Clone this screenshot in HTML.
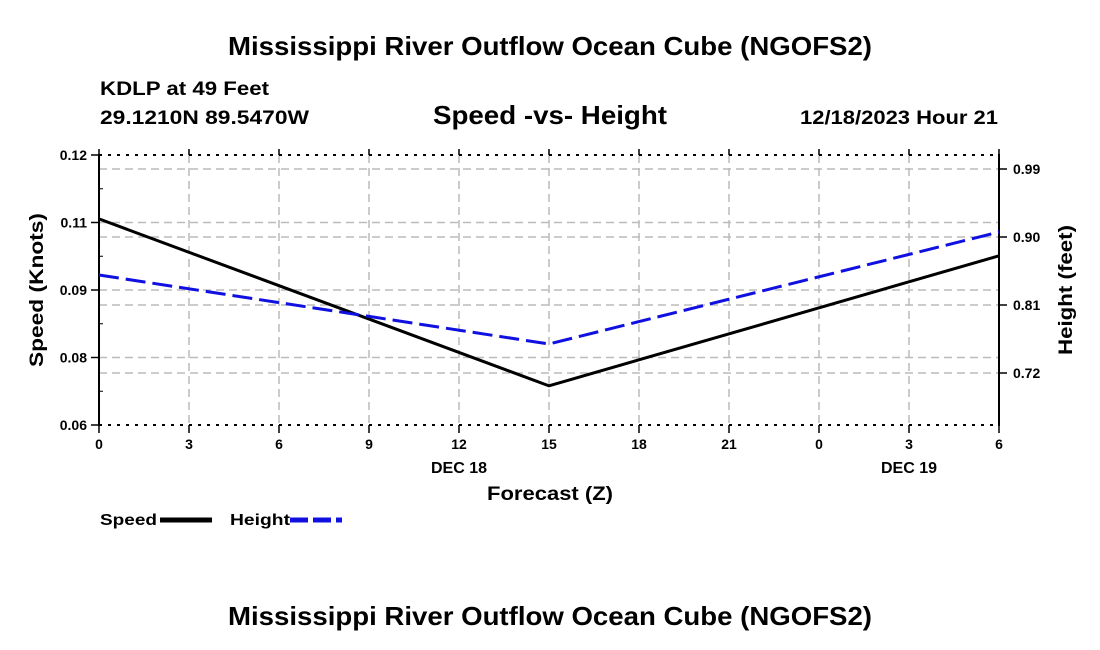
<!DOCTYPE html>
<html><head><meta charset="utf-8"><style>
html,body{margin:0;padding:0;background:#fff;}
svg{display:block;font-family:"Liberation Sans",Arial,sans-serif;font-weight:bold;}
</style></head><body>
<svg id="chart" width="1100" height="650" viewBox="0 0 1100 650">
<text x="228" y="55" font-size="26" textLength="644" lengthAdjust="spacingAndGlyphs">Mississippi River Outflow Ocean Cube (NGOFS2)</text>
<text x="100" y="95" font-size="19" textLength="169" lengthAdjust="spacingAndGlyphs">KDLP at 49 Feet</text>
<text x="100" y="124" font-size="19" textLength="209" lengthAdjust="spacingAndGlyphs">29.1210N  89.5470W</text>
<text x="433" y="124" font-size="26" textLength="234" lengthAdjust="spacingAndGlyphs">Speed -vs- Height</text>
<text x="800" y="124" font-size="19" textLength="198" lengthAdjust="spacingAndGlyphs">12/18/2023 Hour 21</text>
<g id="grid"></g>
<g id="axes"></g>
<g id="series"></g>
<text x="487" y="500" font-size="19" textLength="126" lengthAdjust="spacingAndGlyphs">Forecast (Z)</text>
<text transform="translate(43,290) rotate(-90)" font-size="19" text-anchor="middle" textLength="154" lengthAdjust="spacingAndGlyphs">Speed (Knots)</text>
<text transform="translate(1072,290) rotate(-90)" font-size="19" text-anchor="middle" textLength="130" lengthAdjust="spacingAndGlyphs">Height (feet)</text>
<g>
<text x="100" y="525" font-size="16" textLength="57" lengthAdjust="spacingAndGlyphs">Speed</text>
<line x1="160" y1="520" x2="212" y2="520" stroke="#000" stroke-width="5"/>
<text x="230" y="525" font-size="16" textLength="60" lengthAdjust="spacingAndGlyphs">Height</text>
<line x1="290" y1="520" x2="342" y2="520" stroke="#1010e0" stroke-width="5" stroke-dasharray="18,5"/>
</g>
<text x="228" y="625" font-size="26" textLength="644" lengthAdjust="spacingAndGlyphs">Mississippi River Outflow Ocean Cube (NGOFS2)</text>
</svg>
<script>
const hours = [0, 15, 30];
const speedValues = [0.1058, 0.0687, 0.0976];
const heightValues = [0.8497, 0.7584, 0.9066];
const xTickLabels = ["0","3","6","9","12","15","18","21","0","3","6"];
const leftTickValues = [0.06, 0.075, 0.09, 0.105, 0.12];
const leftTickLabels = ["0.06","0.08","0.09","0.11","0.12"];
const rightTickValues = [0.72, 0.81, 0.90, 0.99];
const rightTickLabels = ["0.72","0.81","0.90","0.99"];
const dayLabels = [{h:12,t:"DEC 18"},{h:27,t:"DEC 19"}];

const PL=99,PR=999,PT=155,PB=425;
const xS=h=>PL+(h/30)*(PR-PL);
const yL=v=>PB-(v-0.06)/0.06*(PB-PT);
const yR=v=>373-(v-0.72)*(68/0.09);
const NS="http://www.w3.org/2000/svg";
function mk(tag,attrs,parent){const e=document.createElementNS(NS,tag);for(const k in attrs)e.setAttribute(k,attrs[k]);parent.appendChild(e);return e;}
const gridG=document.getElementById('grid'),axesG=document.getElementById('axes'),seriesG=document.getElementById('series');
const gs={stroke:"#bbb","stroke-width":1.5,"stroke-dasharray":"8,5",fill:"none"};
for(let i=1;i<xTickLabels.length-1;i++){const x=xS(i*3);const g=mk('line',Object.assign({x1:x,y1:PT,x2:x,y2:PB},gs),gridG);

}
leftTickValues.slice(1,-1).forEach(v=>{const y=yL(v);const g=mk('line',Object.assign({x1:PL,y1:y,x2:PR,y2:y},gs),gridG);

});
rightTickValues.forEach(v=>{const y=yR(v);const g=mk('line',Object.assign({x1:PL,y1:y,x2:PR,y2:y},gs),gridG);

});
const topB=mk('line',{x1:PL,y1:PT,x2:PR,y2:PT,stroke:"#000","stroke-width":2,"stroke-dasharray":"3,6"},axesG);


const botB=mk('line',{x1:PL,y1:PB,x2:PR,y2:PB,stroke:"#000","stroke-width":2,"stroke-dasharray":"3,6"},axesG);


const la=mk('line',{x1:PL,y1:PT-1,x2:PL,y2:PB+1,stroke:"#000","stroke-width":2},axesG);


const ra=mk('line',{x1:PR,y1:PT-1,x2:PR,y2:PB+1,stroke:"#000","stroke-width":2},axesG);


xTickLabels.forEach((t,i)=>{const x=xS(i*3);mk('line',{x1:x,y1:PB,x2:x,y2:PB+8,stroke:"#000","stroke-width":1.5},axesG);mk('line',{x1:x,y1:PT-6,x2:x,y2:PT,stroke:"#000","stroke-width":1.5},axesG);
const tx=mk('text',{x:x,y:PB+24,"font-size":14,"text-anchor":"middle"},axesG);tx.textContent=t;

});
dayLabels.forEach(d=>{const tx=mk('text',{x:xS(d.h),y:PB+48,"font-size":16,"text-anchor":"middle"},axesG);tx.textContent=d.t;

});
leftTickValues.forEach((v,i)=>{const y=yL(v);mk('line',{x1:PL-8,y1:y,x2:PL,y2:y,stroke:"#000","stroke-width":1.5},axesG);
if(i<leftTickValues.length-1){const ym=yL(v+0.0075);mk('line',{x1:PL,y1:ym,x2:PL+4,y2:ym,stroke:"#000","stroke-width":1},axesG);}
const tx=mk('text',{x:PL-12,y:y+5,"font-size":14,"text-anchor":"end"},axesG);tx.textContent=leftTickLabels[i];

});
rightTickValues.forEach((v,i)=>{const y=yR(v);mk('line',{x1:PR,y1:y,x2:PR+8,y2:y,stroke:"#000","stroke-width":1.5},axesG);
const tx=mk('text',{x:PR+14,y:y+5,"font-size":14},axesG);tx.textContent=rightTickLabels[i];

});
const sp=mk('polyline',{points:hours.map((h,i)=>xS(h)+","+yL(speedValues[i])).join(" "),fill:"none",stroke:"#000","stroke-width":3},seriesG);


const hl=mk('polyline',{points:hours.map((h,i)=>xS(h)+","+yR(heightValues[i])).join(" "),fill:"none",stroke:"#1010e0","stroke-width":3,"stroke-dasharray":"20,7"},seriesG);


</script>
</body></html>
